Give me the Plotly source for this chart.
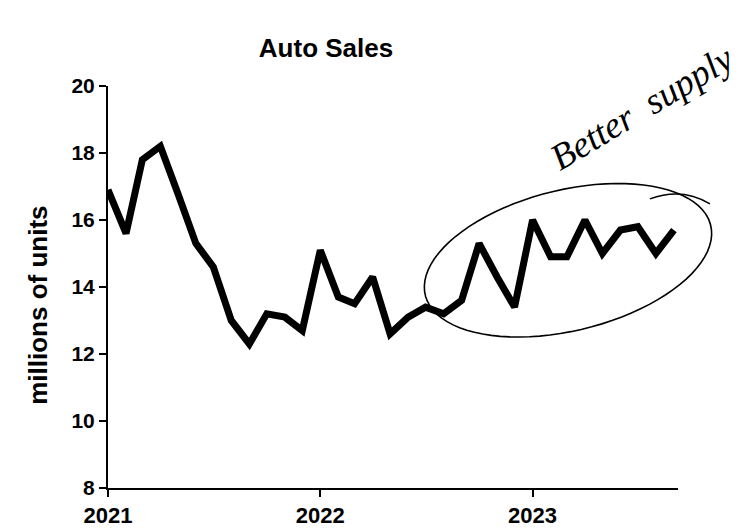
import numpy as np
import pandas as pd
import plotly.graph_objects as go

# monthly auto sales, millions of units (SAAR)
months = pd.date_range("2021-01-01", "2023-09-01", freq="MS")
sales = [16.9, 15.6, 17.8, 18.2, 16.8, 15.3, 14.6, 13.0, 12.3, 13.2, 13.1, 12.7,
         15.1, 13.7, 13.5, 14.3, 12.6, 13.1, 13.4, 13.2, 13.6, 15.3, 14.3, 13.4,
         16.0, 14.9, 14.9, 16.0, 15.0, 15.7, 15.8, 15.0, 15.7]
year_ticks = ["2021-01-01", "2022-01-01", "2023-01-01"]
year_labels = ["2021", "2022", "2023"]
y_ticks = [8, 10, 12, 14, 16, 18, 20]

W, H = 745, 532
L, R, T, B = 100, 75, 78, 48
PW, PH = W - L - R, H - T - B

def px2paper(x, y):
    return (x - L) / PW, (H - B - y) / PH

# hand drawn ellipse round the 2023 stretch (pixel space, then to paper)
cx, cy, a, b, phi = 560, 254, 147, 71, np.radians(-14)
t = np.linspace(-0.15, 2 * np.pi + 0.05, 90)
ex = cx + a * np.cos(t) * np.cos(phi) - b * np.sin(t) * np.sin(phi)
ey = cy + a * np.cos(t) * np.sin(phi) + b * np.sin(t) * np.cos(phi)
pts = [px2paper(x, y) for x, y in zip(ex, ey)]
ell_path = "M " + " L ".join(f"{x:.4f},{y:.4f}" for x, y in pts)
h0, h1, h2 = px2paper(642, 192), px2paper(674, 180), px2paper(702, 197)
hook_path = f"M {h0[0]:.4f},{h0[1]:.4f} Q {h1[0]:.4f},{h1[1]:.4f} {h2[0]:.4f},{h2[1]:.4f}"

font = dict(family="Liberation Sans, Arial, sans-serif", color="black", weight="bold")

fig = go.Figure()
fig.add_trace(go.Scatter(
    x=months,
    y=sales,
    mode="lines",
    line=dict(color="black", width=7),
    showlegend=False))

fig.update_layout(
    width=W, height=H,
    margin={'l': L, 'r': R, 't': T, 'b': B},
    paper_bgcolor="white",
    plot_bgcolor="white",
    title=dict(text="Auto Sales", x=318 / W, xanchor="center", y=1 - 40 / H,
               yanchor="middle", font=dict(font, size=26)),
    xaxis=dict(
        range=["2021-01-01", "2023-09-08"],
        tickvals=year_ticks,
        ticktext=year_labels,
        ticks="outside", ticklen=7, tickwidth=2, tickcolor="black",
        showline=True, linecolor="black", linewidth=2,
        showgrid=False, zeroline=False,
        tickfont=dict(font, size=22)),
    yaxis=dict(
        range=[8, 20],
        tickvals=y_ticks,
        ticks="outside", ticklen=7, tickwidth=2, tickcolor="black",
        showline=True, linecolor="black", linewidth=2,
        showgrid=False, zeroline=False,
        tickfont=dict(font, size=21)),
    shapes=[
        dict(type="path", xref="paper", yref="paper", path=ell_path,
             line=dict(color="black", width=1.6)),
        dict(type="path", xref="paper", yref="paper", path=hook_path,
             line=dict(color="black", width=1.4)),
    ],
    annotations=[
        dict(text="millions of units", xref="paper", yref="paper",
             x=(30 - L) / PW, y=(H - B - 300) / PH, textangle=-90, showarrow=False,
             xanchor="center", yanchor="middle", font=dict(font, size=26)),
        dict(text="Better  supply", xref="paper", yref="paper",
             x=px2paper(634, 100)[0], y=px2paper(634, 100)[1], textangle=-31,
             showarrow=False, xanchor="center", yanchor="middle",
             font=dict(family="Liberation Serif, serif", size=37, color="black",
                       style="italic")),
    ])

fig.write_html("out.html")
